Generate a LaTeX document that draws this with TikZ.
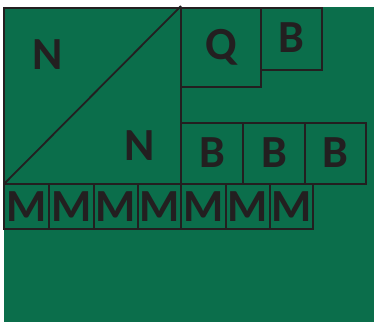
\documentclass[tikz,border=0pt]{standalone}
\usepackage{fontspec}
\setmainfont{Carlito}
\definecolor{bggreen}{HTML}{0B6E4B}
\definecolor{ink}{HTML}{231F20}
\begin{document}
\begin{tikzpicture}[x=1pt,y=-1pt,
  cell/.style={draw=ink,line width=1.8pt},
  lbl/.style={text=ink,font=\bfseries\fontsize{46}{46}\selectfont,inner sep=0pt}]
\useasboundingbox (0,0) rectangle (374,322);
\fill[white] (0,0) rectangle (374,322);
\fill[bggreen] (4,7) rectangle (374,322);
% big square with diagonal
\draw[cell] (4,8) rectangle (181,184);
\coordinate (bl) at (4,184);
\coordinate (tr) at (181,6);
\draw[cell] (bl) -- (tr);
\node[lbl] (n1) at (48,55) {N};
\node[lbl] (n2) at (140,146) {N};
% Q and top B
\draw[cell] (181,8) rectangle (261,87);
\node[lbl] (q) at (221,47) {Q};
\draw[cell] (261,8) rectangle (322,70);
\node[lbl] (bt) at (291,38) {B};
% B row
\foreach \a/\b [count=\i] in {181/243,243/305,305/366}{
  \draw[cell] (\a,123) rectangle (\b,184);
  \node[lbl] (b\i) at ({(\a+\b)/2},153) {B};
}
% M row
\foreach \a/\b [count=\i] in {4/49,49/94,94/138,138/181,181/226,226/270,270/313}{
  \draw[cell] (\a,184) rectangle (\b,229);
  \node[lbl] (m\i) at ({(\a+\b)/2},207) {M};
}
\end{tikzpicture}
\end{document}
